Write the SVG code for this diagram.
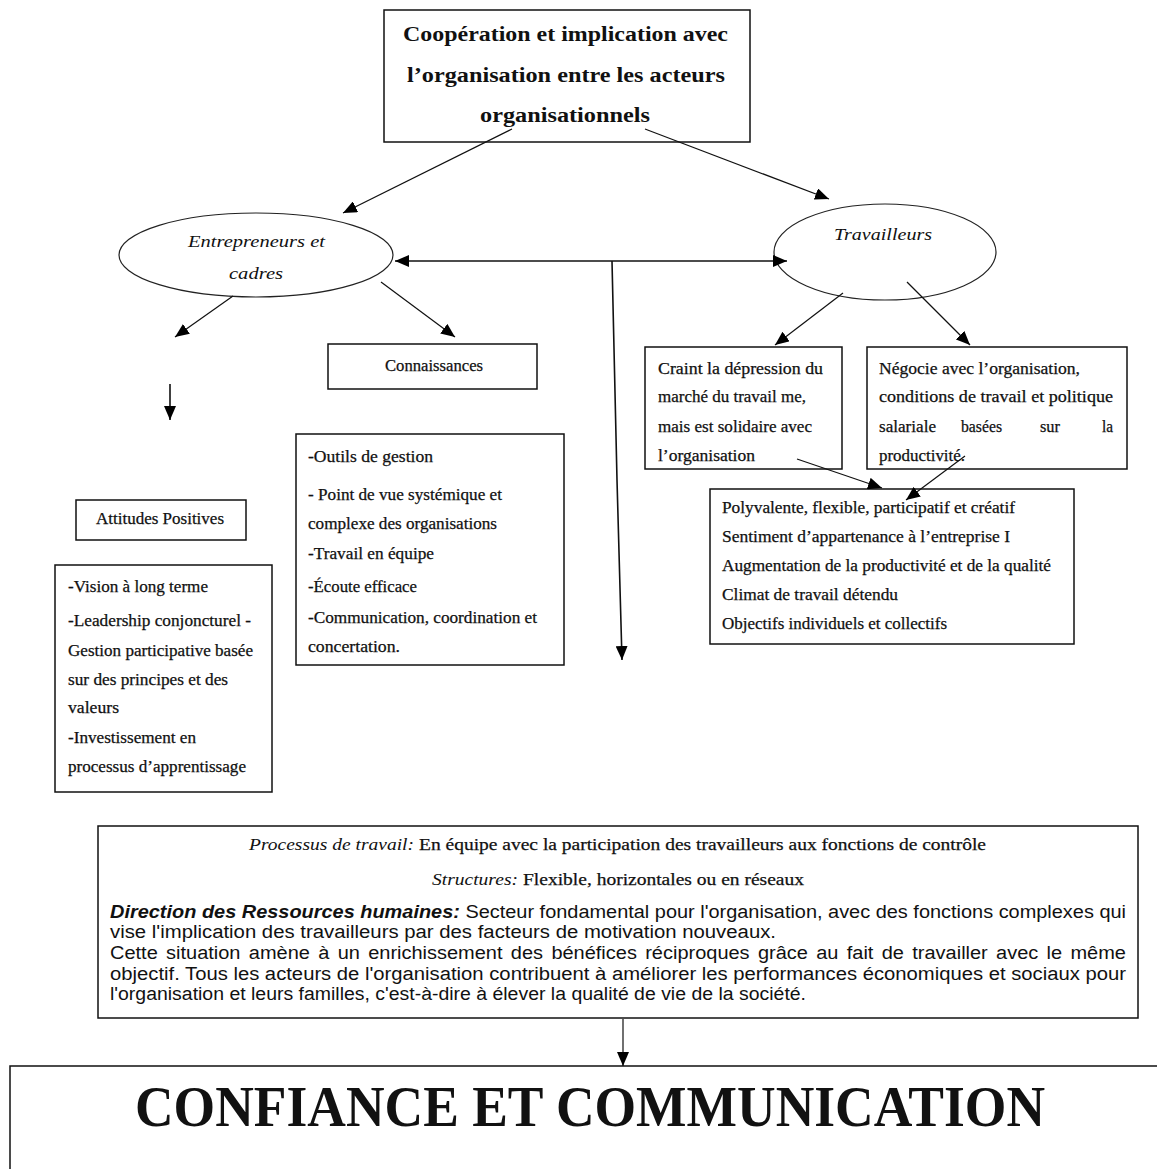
<svg xmlns="http://www.w3.org/2000/svg" width="1157" height="1169" viewBox="0 0 1157 1169">
  <style>
    .box { fill: #fff; stroke: #111; stroke-width: 1.5; }
    .ell { fill: #fff; stroke: #222; stroke-width: 1.2; }
    .ln { fill: none; stroke: #111; stroke-width: 1.2; }
    .ln2 { fill: none; stroke: #111; stroke-width: 1.6; }
    .serif { font-family: "Liberation Serif", "Times New Roman", serif; fill: #111; }
    .sans { font-family: "Liberation Sans", Arial, sans-serif; fill: #111; }
    .heavy { stroke: #111; stroke-width: 0.25; }
    .t16 { font-size: 16px; }
    .t17 { font-size: 17px; }
    .t18 { font-size: 18px; }
    .it { font-style: italic; }
    .bd { font-weight: bold; }
  </style>
  <defs>
    <marker id="arr" viewBox="0 0 14 12" refX="14" refY="6" markerWidth="14" markerHeight="12" markerUnits="userSpaceOnUse" orient="auto-start-reverse">
      <path d="M0,0 L14,6 L0,12 Z" fill="#000"/>
    </marker>
  </defs>

  <rect width="1157" height="1169" fill="#fff"/>

  <!-- root: cooperation -->
  <g id="cooperation">
    <rect class="box" x="384" y="10" width="366" height="132"/>
    <text class="serif bd" font-size="20" x="403" y="41" textLength="325" lengthAdjust="spacingAndGlyphs">Coopération et implication avec</text>
    <text class="serif bd" font-size="20" x="407" y="82" textLength="318" lengthAdjust="spacingAndGlyphs">l’organisation entre les acteurs</text>
    <text class="serif bd" font-size="20" x="480" y="122" textLength="170" lengthAdjust="spacingAndGlyphs">organisationnels</text>
  </g>

  <!-- actors -->
  <g id="entrepreneurs">
    <ellipse class="ell" cx="256" cy="255" rx="137" ry="42"/>
    <text class="serif it" font-size="17" x="188" y="247" textLength="137" lengthAdjust="spacingAndGlyphs">Entrepreneurs et</text>
    <text class="serif it" font-size="17" x="229" y="279" textLength="54" lengthAdjust="spacingAndGlyphs">cadres</text>
  </g>

  <g id="travailleurs">
    <ellipse class="ell" cx="885" cy="252" rx="111" ry="48"/>
    <text class="serif it" font-size="17" x="834" y="240" textLength="98" lengthAdjust="spacingAndGlyphs">Travailleurs</text>
  </g>

  <!-- entrepreneurs branch -->
  <g id="connaissances">
    <rect class="box" x="328" y="344" width="209" height="45"/>
    <text class="serif t16 heavy" x="385" y="371" textLength="98" lengthAdjust="spacingAndGlyphs">Connaissances</text>
  </g>

  <g id="attitudes">
    <rect class="box" x="76" y="500" width="170" height="40"/>
    <text class="serif t16 heavy" x="96" y="524" textLength="128" lengthAdjust="spacingAndGlyphs">Attitudes Positives</text>
  </g>

  <g id="attitudes-list">
    <rect class="box" x="55" y="565" width="217" height="227"/>
    <g class="serif t16 heavy">
      <text x="68" y="592" textLength="140" lengthAdjust="spacingAndGlyphs">-Vision à long terme</text>
      <text x="68" y="626" textLength="183" lengthAdjust="spacingAndGlyphs">-Leadership conjoncturel -</text>
      <text x="68" y="656" textLength="185" lengthAdjust="spacingAndGlyphs">Gestion participative basée</text>
      <text x="68" y="685" textLength="160" lengthAdjust="spacingAndGlyphs">sur des principes et des</text>
      <text x="68" y="713" textLength="51" lengthAdjust="spacingAndGlyphs">valeurs</text>
      <text x="68" y="743" textLength="128" lengthAdjust="spacingAndGlyphs">-Investissement en</text>
      <text x="68" y="772" textLength="178" lengthAdjust="spacingAndGlyphs">processus d’apprentissage</text>
    </g>
  </g>

  <g id="connaissances-list">
    <rect class="box" x="296" y="434" width="268" height="231"/>
    <g class="serif t16 heavy">
      <text x="308" y="462" textLength="125" lengthAdjust="spacingAndGlyphs">-Outils de gestion</text>
      <text x="308" y="500" textLength="194" lengthAdjust="spacingAndGlyphs">- Point de vue systémique et</text>
      <text x="308" y="529" textLength="189" lengthAdjust="spacingAndGlyphs">complexe des organisations</text>
      <text x="308" y="559" textLength="126" lengthAdjust="spacingAndGlyphs">-Travail en équipe</text>
      <text x="308" y="592" textLength="109" lengthAdjust="spacingAndGlyphs">-Écoute efficace</text>
      <text x="308" y="623" textLength="229" lengthAdjust="spacingAndGlyphs">-Communication, coordination et</text>
      <text x="308" y="652" textLength="92" lengthAdjust="spacingAndGlyphs">concertation.</text>
    </g>
  </g>

  <!-- travailleurs branch -->
  <g id="craint">
    <rect class="box" x="645" y="347" width="197" height="122"/>
    <g class="serif t16 heavy">
      <text x="658" y="374" textLength="165" lengthAdjust="spacingAndGlyphs">Craint  la dépression du</text>
      <text x="658" y="402" textLength="148" lengthAdjust="spacingAndGlyphs">marché du travail me,</text>
      <text x="658" y="432" textLength="154" lengthAdjust="spacingAndGlyphs">mais est solidaire avec</text>
      <text x="658" y="461" textLength="97" lengthAdjust="spacingAndGlyphs">l’organisation</text>
    </g>
  </g>

  <g id="negocie">
    <rect class="box" x="867" y="347" width="260" height="122"/>
    <g class="serif t16 heavy">
      <text x="879" y="374" textLength="201" lengthAdjust="spacingAndGlyphs">Négocie avec l’organisation,</text>
      <text x="879" y="402" textLength="234" lengthAdjust="spacingAndGlyphs">conditions de travail et  politique</text>
      <text x="879" y="432" textLength="57" lengthAdjust="spacingAndGlyphs">salariale</text>
      <text x="961" y="432" textLength="41" lengthAdjust="spacingAndGlyphs">basées</text>
      <text x="1040" y="432" textLength="20" lengthAdjust="spacingAndGlyphs">sur</text>
      <text x="1102" y="432" textLength="11" lengthAdjust="spacingAndGlyphs">la</text>
      <text x="879" y="461" textLength="86" lengthAdjust="spacingAndGlyphs">productivité.</text>
    </g>
  </g>

  <g id="qualites">
    <rect class="box" x="710" y="489" width="364" height="155"/>
    <g class="serif t16 heavy">
      <text x="722" y="513" textLength="293" lengthAdjust="spacingAndGlyphs">Polyvalente, flexible, participatif et créatif</text>
      <text x="722" y="542" textLength="288" lengthAdjust="spacingAndGlyphs">Sentiment  d’appartenance à l’entreprise I</text>
      <text x="722" y="571" textLength="329" lengthAdjust="spacingAndGlyphs">Augmentation de la productivité  et de la qualité</text>
      <text x="722" y="600" textLength="176" lengthAdjust="spacingAndGlyphs">Climat de travail détendu</text>
      <text x="722" y="629" textLength="225" lengthAdjust="spacingAndGlyphs">Objectifs individuels et collectifs</text>
    </g>
  </g>

  <!-- synthesis -->
  <g id="processus">
    <rect class="box" x="98" y="826" width="1040" height="192"/>
    <text class="serif t17 it" x="249" y="850" textLength="165" lengthAdjust="spacingAndGlyphs">Processus de travail:</text>
    <text class="serif t17 heavy" x="419" y="850" textLength="567" lengthAdjust="spacingAndGlyphs">En équipe avec la participation des travailleurs aux fonctions de contrôle</text>
    <text class="serif t17 it" x="432" y="885" textLength="86" lengthAdjust="spacingAndGlyphs">Structures:</text>
    <text class="serif t17 heavy" x="523" y="885" textLength="281" lengthAdjust="spacingAndGlyphs">Flexible, horizontales ou en réseaux</text>
    <g class="sans t18">
      <text x="110" y="918" textLength="1016" lengthAdjust="spacingAndGlyphs"><tspan class="bd it">Direction des Ressources humaines:</tspan> Secteur fondamental pour l'organisation, avec des fonctions complexes qui</text>
      <text x="110" y="938" textLength="666" lengthAdjust="spacingAndGlyphs">vise l'implication des travailleurs par des facteurs de motivation nouveaux.</text>
      <text x="110" y="959" word-spacing="2.5" textLength="1016" lengthAdjust="spacingAndGlyphs">Cette situation amène à un enrichissement des bénéfices réciproques grâce au fait de travailler avec le même</text>
      <text x="110" y="980" textLength="1016" lengthAdjust="spacingAndGlyphs">objectif. Tous les acteurs de l'organisation contribuent à améliorer les performances économiques et sociaux pour</text>
      <text x="110" y="1000" textLength="696" lengthAdjust="spacingAndGlyphs">l'organisation et leurs familles, c'est-à-dire à élever la qualité de vie de la société.</text>
    </g>
  </g>

  <g id="confiance">
    <path class="box" d="M1160,1066 L10,1066 L10,1172"/>
    <text class="serif bd" font-size="58" x="135" y="1126" textLength="910" lengthAdjust="spacingAndGlyphs">CONFIANCE ET COMMUNICATION</text>
  </g>

  <!-- connectors, drawn over the boxes -->
  <g id="connectors">
    <line class="ln" x1="512" y1="129" x2="343" y2="213" marker-end="url(#arr)"/>
    <line class="ln" x1="645" y1="129" x2="829" y2="199" marker-end="url(#arr)"/>
    <line class="ln2" x1="395" y1="261" x2="787" y2="261" marker-start="url(#arr)" marker-end="url(#arr)"/>
    <polyline class="ln2" points="612,261 617,480 622,660" marker-end="url(#arr)"/>
    <line class="ln" x1="233" y1="296" x2="175" y2="337" marker-end="url(#arr)"/>
    <line class="ln" x1="381" y1="282" x2="455" y2="337" marker-end="url(#arr)"/>
    <line class="ln2" x1="170" y1="384" x2="170" y2="420" marker-end="url(#arr)"/>
    <line class="ln" x1="843" y1="293" x2="775" y2="345" marker-end="url(#arr)"/>
    <line class="ln" x1="907" y1="282" x2="970" y2="345" marker-end="url(#arr)"/>
    <line class="ln" x1="797" y1="459" x2="882" y2="488" marker-end="url(#arr)"/>
    <line class="ln" x1="965" y1="456" x2="906" y2="500" marker-end="url(#arr)"/>
    <line class="ln" x1="623" y1="1019" x2="623" y2="1066" marker-end="url(#arr)"/>
  </g>
</svg>
